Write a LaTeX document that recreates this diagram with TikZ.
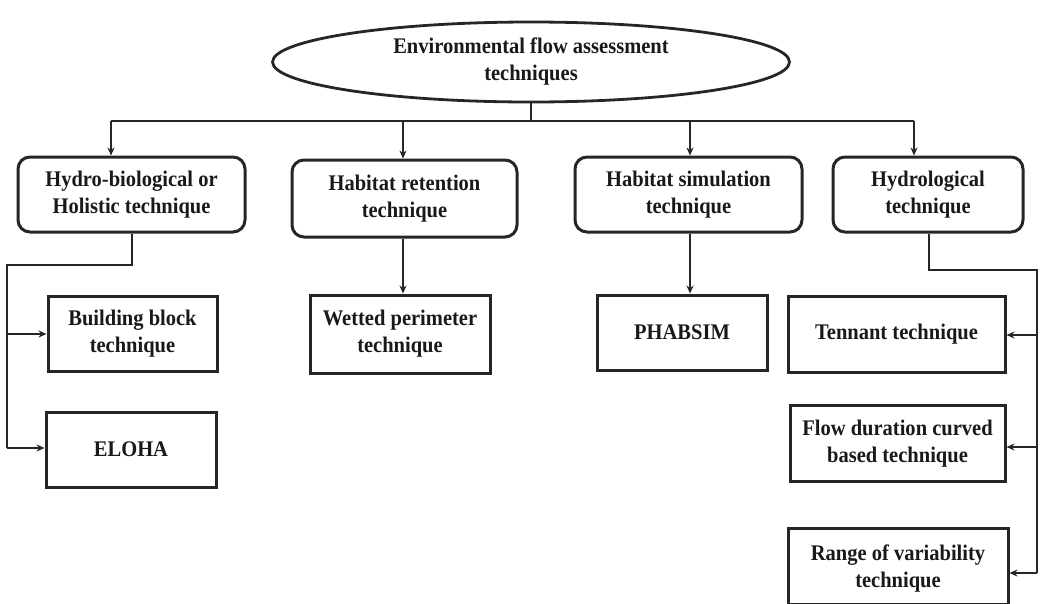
\documentclass[tikz,border=0pt]{standalone}
\usepackage{fontspec}
\setmainfont{Liberation Serif}[FakeStretch=0.92]
\usetikzlibrary{shapes.geometric,arrows.meta,calc}
\begin{document}
\begin{tikzpicture}[x=1pt,y=-1pt,
  txt/.style={font=\fontsize{22.3}{27}\selectfont\bfseries, align=center, text=black!90},
  rbox/.style={txt, draw=black!85, line width=3pt, rounded corners=12pt, inner sep=0pt},
  sbox/.style={txt, draw=black!85, line width=3pt, inner sep=0pt},
  conn/.style={draw=black!85, line width=2.8pt},
  arr/.style={conn, -{Stealth[length=8pt,width=7pt]}}]
\useasboundingbox (0,0) rectangle (1040,603);
\node[txt, ellipse, draw=black!85, line width=2.8pt, minimum width=517pt, minimum height=80pt, inner sep=0pt] (top) at (531,62) {Environmental flow assessment\\techniques};
\node[rbox, minimum width=227pt, minimum height=75pt] (b1) at (131.5,194.5) {Hydro-biological or\\Holistic technique};
\node[rbox, minimum width=225pt, minimum height=77pt] (b2) at (404.5,198.5) {Habitat retention\\technique};
\node[rbox, minimum width=227pt, minimum height=75pt] (b3) at (688.5,194.5) {Habitat simulation\\technique};
\node[rbox, minimum width=190pt, minimum height=75pt] (b4) at (928,194.5) {Hydrological\\technique};
\node[sbox, minimum width=169pt, minimum height=75pt] (bb) at (132.5,333.5) {Building block\\technique};
\node[sbox, minimum width=170pt, minimum height=75pt] (el) at (131,449.5) {ELOHA};
\node[sbox, minimum width=180pt, minimum height=78pt] (wp) at (400,334) {Wetted perimeter\\technique};
\node[sbox, minimum width=170pt, minimum height=75pt] (ph) at (682,332.5) {PHABSIM};
\node[sbox, minimum width=217pt, minimum height=76pt] (te) at (896.5,334) {Tennant technique};
\node[sbox, minimum width=215pt, minimum height=76pt] (fd) at (897.5,443.5) {Flow duration curved\\based technique};
\node[sbox, minimum width=220pt, minimum height=76pt, text depth=0pt] (rv) at (898,566) {Range of variability\\technique};
% main bar
\coordinate (p1) at (111,121);
\coordinate (p2) at (403,121);
\coordinate (p3) at (690,121);
\coordinate (p4) at (914,121);
\draw[conn] (top.south) -- (top.south |- p1);
\draw[conn] (p1) -- (p4);
\draw[arr] (p1) -- (p1 |- b1.north);
\draw[arr] (p2) -- (p2 |- b2.north);
\draw[arr] (p3) -- (p3 |- b3.north);
\draw[arr] (p4) -- (p4 |- b4.north);
% left branch
\coordinate (l1) at (132,265);
\coordinate (l2) at (7,265);
\coordinate (l3) at (7,334);
\coordinate (l4) at (7,448);
\draw[conn] (b1.south -| l1) -- (l1) -- (l2) -- (l4);
\draw[arr] (l3) -- (l3 -| bb.west);
\draw[arr] (l4) -- (l4 -| el.west);
% middle arrows
\draw[arr] (b2.south -| p2) -- (p2 |- wp.north);
\draw[arr] (b3.south -| p3) -- (p3 |- ph.north);
% right branch
\coordinate (r1) at (929,270);
\coordinate (r2) at (1037,270);
\coordinate (r3) at (1037,335);
\coordinate (r4) at (1037,447);
\coordinate (r5) at (1037,573);
\draw[conn] (b4.south -| r1) -- (r1) -- (r2) -- (r5);
\draw[arr] (r3) -- (r3 -| te.east);
\draw[arr] (r4) -- (r4 -| fd.east);
\draw[arr] (r5) -- (r5 -| rv.east);
\end{tikzpicture}
\end{document}
